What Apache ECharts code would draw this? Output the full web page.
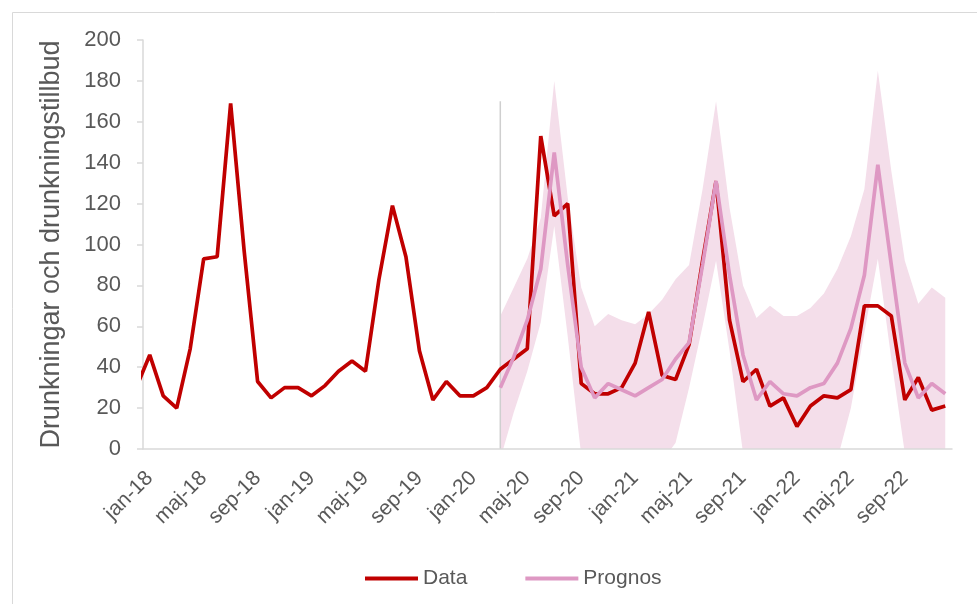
<!DOCTYPE html>
<html>
<head>
<meta charset="utf-8">
<script src="https://cdn.jsdelivr.net/npm/echarts@6/dist/echarts.min.js"></script>
<style>
html,body{margin:0;padding:0;background:#fff;}
#chart{width:977px;height:604px;}
</style>
</head>
<body>
<div id="chart"></div>
<script>
// Category labels (months)
const categories = [
  'jan-18','feb-18','mar-18','apr-18','maj-18','jun-18','jul-18','aug-18','sep-18','okt-18','nov-18','dec-18',
  'jan-19','feb-19','mar-19','apr-19','maj-19','jun-19','jul-19','aug-19','sep-19','okt-19','nov-19','dec-19',
  'jan-20','feb-20','mar-20','apr-20','maj-20','jun-20','jul-20','aug-20','sep-20','okt-20','nov-20','dec-20',
  'jan-21','feb-21','mar-21','apr-21','maj-21','jun-21','jul-21','aug-21','sep-21','okt-21','nov-21','dec-21',
  'jan-22','feb-22','mar-22','apr-22','maj-22','jun-22','jul-22','aug-22','sep-22','okt-22','nov-22','dec-22'
];
// Value just before the visible range (dec-17), only its clipped segment is shown
const prevValue = 30;
// Observed data, jan-18 .. dec-22
const dataValues = [
  46, 26, 20, 49, 93, 94, 169, 97, 33, 25, 30, 30,
  26, 31, 38, 43, 38, 83, 119, 94, 48, 24, 33, 26,
  26, 30, 39, 44, 49, 153, 114, 120, 32, 27, 27, 30,
  42, 67, 36, 34, 51, 92, 131, 63, 33, 39, 21, 25,
  11, 21, 26, 25, 29, 70, 70, 65, 24, 35, 19, 21
];
// Forecast starts at index 26 (mar-20)
const forecastStart = 26;
const prognos = [30, 45, 63, 88, 145, 90, 40, 25, 32, 29, 26, 30, 34, 44, 52, 90, 131, 85, 46, 24, 33, 27, 26, 30, 32, 42, 59, 85, 139, 90, 42, 25, 32, 27];
const upper   = [65, 79, 93, 113, 180, 123, 79, 60, 66, 63, 61, 66, 73, 83, 90, 127, 170, 118, 80, 64, 70, 65, 65, 69, 76, 88, 104, 127, 185, 136, 92, 71, 79, 74];
const lower   = [-5, 18, 38, 62, 109, 55, -3, -12, -10, -10, -12, -8, -6, 3, 30, 60, 92, 48, -2, -14, -8, -12, -14, -10, -8, -5, 20, 57, 93, 44, -2, -18, -12, -16];
const dividerTop = 170;
const yTicks = { min: 0, max: 200, interval: 20 };

const dataSeries = [[-1, prevValue]].concat(dataValues.map((v, i) => [i, v]));
const prognosSeries = prognos.map((v, i) => [forecastStart + i, v]);
const upperSeries = upper.map((v, i) => [forecastStart + i, v]);
const lowerSeries = lower.map((v, i) => [forecastStart + i, v]);
const dividerSeries = [[forecastStart, 0], [forecastStart, dividerTop]];

const textColor = '#595959';
const axisColor = '#D9D9D9';
const bandColor = '#F4DEEA';
const font = 'Liberation Sans, Arial, sans-serif';

const chart = echarts.init(document.getElementById('chart'), null, { renderer: 'canvas' });
chart.setOption({
  animation: false,
  backgroundColor: '#ffffff',
  graphic: [{
    type: 'rect', left: 10, top: 10, z: -10,
    shape: { width: 966, height: 610 },
    style: { fill: 'none', stroke: axisColor, lineWidth: 1 }
  }],
  grid: { left: 143, right: 25, top: 40, bottom: 155 },
  legend: {
    data: ['Data', 'Prognos'],
    left: 360, top: 563,
    icon: 'rect',
    itemWidth: 53, itemHeight: 4, itemGap: 58,
    textStyle: { color: textColor, fontSize: 21, fontFamily: font, padding: [0, 0, 0, 0] }
  },
  xAxis: [{
    type: 'category',
    data: categories,
    boundaryGap: true,
    z: 10,
    axisLine: { lineStyle: { color: axisColor, width: 1.5 } },
    axisTick: { interval: 3, length: 6, lineStyle: { color: axisColor, width: 1.5 } },
    axisLabel: { interval: 3, rotate: 45, margin: 26, color: textColor, fontSize: 21, fontFamily: font },
    splitLine: { show: false }
  }, {
    type: 'value', min: -0.5, max: 59.5, show: false
  }],
  yAxis: {
    type: 'value',
    min: yTicks.min, max: yTicks.max, interval: yTicks.interval,
    name: 'Drunkningar och drunkningstillbud',
    nameLocation: 'middle', nameRotate: 90, nameGap: 78,
    nameTextStyle: { color: textColor, fontSize: 27, fontFamily: font },
    axisLine: { show: true, onZero: false, lineStyle: { color: axisColor, width: 1.5 } },
    axisTick: { show: true, length: 6, lineStyle: { color: axisColor, width: 1.5 } },
    axisLabel: { margin: 22, color: textColor, fontSize: 22, fontFamily: font },
    splitLine: { show: false }
  },
  series: [{
    name: 'upperBand', type: 'line', xAxisIndex: 1, data: upperSeries,
    symbol: 'none', lineStyle: { width: 0, opacity: 0 },
    areaStyle: { color: bandColor, opacity: 1, origin: 'start' }, silent: true, z: 1
  }, {
    name: 'lowerBand', type: 'line', xAxisIndex: 1, data: lowerSeries,
    symbol: 'none', lineStyle: { width: 0, opacity: 0 },
    areaStyle: { color: '#ffffff', opacity: 1, origin: 'start' }, silent: true, z: 1
  }, {
    name: 'divider', type: 'line', xAxisIndex: 1, data: dividerSeries,
    symbol: 'none', lineStyle: { color: '#CFCFCF', width: 1.5 }, silent: true, z: 2
  }, {
    name: 'Data', type: 'line', xAxisIndex: 1, data: dataSeries,
    symbol: 'none', color: '#C00000',
    lineStyle: { color: '#C00000', width: 3.7 }, z: 3
  }, {
    name: 'Prognos', type: 'line', xAxisIndex: 1, data: prognosSeries,
    symbol: 'none', color: '#DE98C3',
    lineStyle: { color: '#DE98C3', width: 3.7 }, z: 4
  }]
});
</script>
</body>
</html>
